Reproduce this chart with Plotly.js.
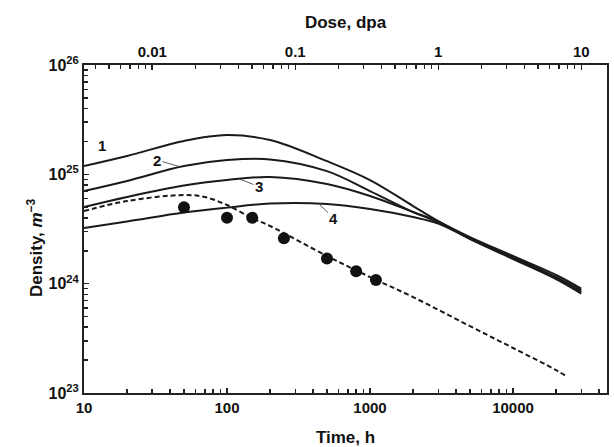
<!DOCTYPE html>
<html><head><meta charset="utf-8">
<script src="https://cdn.plot.ly/plotly-3.0.1.min.js"></script>
<style>body{margin:0;background:#fff}</style></head>
<body><div id="chart" style="width:614px;height:447px"></div>
<script>
// Time (h) for model curves
const timeCurves = [10,20,50,100,200,500,1000,2000,3000,5000,10000,20000,30000];
const curve1 = [1.19e25,1.47e25,2.02e25,2.29e25,2.06e25,1.32e25,8.87e24,5.13e24,3.74e24,2.67e24,1.79e24,1.20e24,9.0e23];
const curve2 = [7.03e24,8.69e24,1.19e25,1.35e25,1.37e25,1.07e25,7.03e24,4.52e24,3.66e24,2.61e24,1.75e24,1.15e24,8.7e23];
const curve3 = [5.02e24,6.20e24,7.90e24,8.87e24,9.45e24,8.15e24,6.33e24,4.52e24,3.70e24,2.59e24,1.71e24,1.12e24,8.4e23];
const curve4 = [3.23e24,3.70e24,4.47e24,4.96e24,5.40e24,5.35e24,4.82e24,4.07e24,3.55e24,2.56e24,1.68e24,1.10e24,8.1e23];
// Dashed curve
const timeDashed = [10,20,50,70,100,150,200,500,1000,2000,5000,10000,20000,24000];
const dashed = [4.62e24,5.70e24,6.47e24,6.20e24,5.24e24,3.98e24,3.37e24,1.79e24,1.15e24,7.54e23,4.09e23,2.58e23,1.62e23,1.40e23];
// Experimental points
const timePts = [50,100,150,250,500,800,1100];
const densPts = [5.0e24,4.0e24,4.0e24,2.6e24,1.7e24,1.3e24,1.08e24];
// Ticks
const timeTicks = [10,100,1000,10000];
const timeTickText = ['10','100','1000','10000'];
const doseTicks = [0.01,0.1,1,10];
const doseTickText = ['0.01','0.1','1','10'];
const densTicks = [1e23,1e24,1e25,1e26];
const densTickText = ['10<sup>23</sup>','10<sup>24</sup>','10<sup>25</sup>','10<sup>26</sup>'];
const hoursPerDpa = 3000;

function minorVals(lo, hi){ const v=[]; for(let e=lo;e<hi;e++){ for(let k=2;k<=9;k++) v.push(k*Math.pow(10,e)); } return v; }

const xMax = 4.657;
const shift = Math.log10(hoursPerDpa);
const lineStyle = {color:'#1a1a1a', width:2, shape:'spline', smoothing:1};
const traces = [
  {x: timeCurves, y: curve1, mode:'lines', line: lineStyle},
  {x: timeCurves, y: curve2, mode:'lines', line: lineStyle},
  {x: timeCurves, y: curve3, mode:'lines', line: lineStyle},
  {x: timeCurves, y: curve4, mode:'lines', line: lineStyle},
  {x: timeDashed, y: dashed, mode:'lines', line:{color:'#1a1a1a', width:2, dash:'5px,3px', shape:'spline', smoothing:1}},
  {x: timePts, y: densPts, mode:'markers', marker:{color:'#111', size:12}},
  {x: timeCurves.map(t=>t/hoursPerDpa), y: curve1, xaxis:'x2', mode:'lines', line:{width:0}, opacity:0, hoverinfo:'skip'}
];
const tf = {family:'Liberation Sans, Arial, sans-serif', size:15, color:'#111', weight:'bold'};
const titleFont = {...tf, size:17};
const layout = {
  width:614, height:447,
  margin:{l:84, r:7, t:65, b:54},
  paper_bgcolor:'#fff', plot_bgcolor:'#fff',
  showlegend:false,
  font: tf,
  xaxis:{type:'log', range:[1, xMax], tickvals:timeTicks, ticktext:timeTickText,
    ticks:'inside', ticklen:5, tickwidth:1.5, tickcolor:'#222',
    minor:{tickvals:minorVals(1,5), ticks:'inside', ticklen:4, tickwidth:1.5, tickcolor:'#222', showgrid:false},
    showline:true, linecolor:'#222', linewidth:2, showgrid:false, zeroline:false,
    tickfont:tf, title:{text:'Time, h', font:titleFont, standoff:16}},
  xaxis2:{type:'log', overlaying:'x', side:'top', range:[1-shift, xMax-shift], tickvals:doseTicks, ticktext:doseTickText,
    ticks:'inside', ticklen:5, tickwidth:1.5, tickcolor:'#222',
    minor:{tickvals:minorVals(-3,2), ticks:'inside', ticklen:4, tickwidth:1.5, tickcolor:'#222', showgrid:false},
    showline:true, linecolor:'#222', linewidth:2, showgrid:false, zeroline:false,
    tickfont:tf, title:{text:'Dose, dpa', font:titleFont, standoff:10}},
  yaxis:{type:'log', range:[23,26], tickvals:densTicks, ticktext:densTickText,
    ticks:'inside', ticklen:5, tickwidth:1.5, tickcolor:'#222',
    minor:{tickvals:minorVals(23,26), ticks:'inside', ticklen:4, tickwidth:1.5, tickcolor:'#222', showgrid:false},
    showline:true, mirror:true, linecolor:'#222', linewidth:2, showgrid:false, zeroline:false,
    tickfont:{...tf, size:16}},
  annotations:[
    {xref:'paper', yref:'paper', x:-0.1185, y:0.442, text:'Density, <i>m</i><sup>−3</sup>', textangle:-90, showarrow:false, font:titleFont},
    {x:1.126, y:25.268, text:'1', showarrow:false, font:{...tf, size:15}},
    {x:1.678, y:25.067, text:'2', showarrow:true, arrowhead:0, arrowwidth:0.8, arrowcolor:'#333', ax:-24, ay:-7, font:{...tf, size:15}},
    {x:2.084, y:24.960, text:'3', showarrow:true, arrowhead:0, arrowwidth:0.8, arrowcolor:'#333', ax:20, ay:8, font:{...tf, size:15}},
    {x:2.650, y:24.719, text:'4', showarrow:true, arrowhead:0, arrowwidth:0.8, arrowcolor:'#333', ax:14, ay:13, font:{...tf, size:15}}
  ]
};
Plotly.newPlot('chart', traces, layout, {displayModeBar:false, staticPlot:true});
</script></body></html>
